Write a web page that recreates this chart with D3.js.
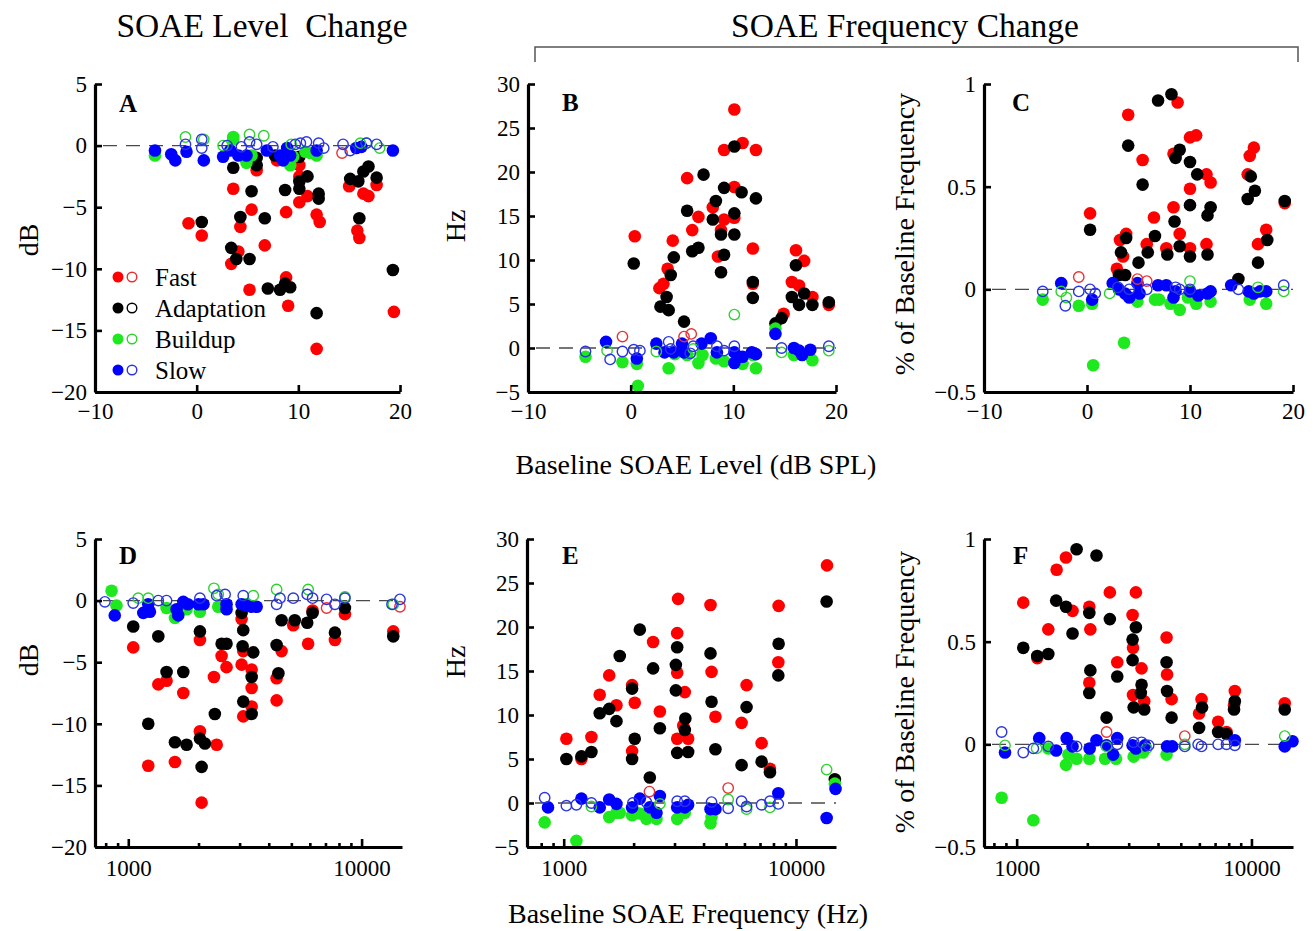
<!DOCTYPE html>
<html>
<head>
<meta charset="utf-8">
<script src="https://cdnjs.cloudflare.com/ajax/libs/d3/7.8.5/d3.min.js"></script>
<style>
body { margin:0; background:#fff; }
svg { display:block; }
text { font-family:"Liberation Serif","Times New Roman",serif; fill:#000; }
</style>
</head>
<body>
<div id="chart"></div>
<script>
// ---- data: [x, y] ----
// panel A : level change (dB) vs baseline level (dB SPL)
var aFast  = [[-0.8,-6.3],[0.5,-7.3],[3.4,-9.6],[3.6,-3.5],[4.1,-8.6],[4.3,-6.6],[5.4,-5.2],[5.2,-11.7],[5.9,-2.0],[6.7,-8.1],[7.9,-1.2],[8.8,-5.4],[8.8,-10.7],[9.0,-13.0],[10.1,-1.6],[10.1,-2.5],[10.1,-4.6],[10.9,-4.1],[11.8,-5.6],[12.1,-6.2],[11.8,-16.5],[15.0,-3.3],[15.8,-6.9],[16.0,-7.5],[16.4,-3.9],[16.9,-4.1],[17.7,-3.2],[19.4,-13.5]];
var aFastO = [[14.3,-0.6]];
var aAdapt = [[0.5,-6.2],[3.6,-1.8],[3.4,-8.3],[3.9,-9.2],[4.3,-5.8],[5.2,-9.2],[5.4,-3.7],[5.9,-1.0],[5.9,-1.6],[6.7,-5.9],[7.0,-11.6],[7.7,-0.8],[8.2,-11.7],[8.7,-11.2],[9.2,-11.5],[8.7,-3.6],[10.1,-0.9],[10.1,-2.9],[10.1,-3.5],[10.9,-2.5],[12.0,-3.9],[12.0,-4.3],[11.8,-13.6],[15.1,-2.7],[15.9,-2.9],[16.0,-5.9],[16.4,-2.1],[16.9,-1.7],[17.7,-2.6],[19.3,-10.1]];
var aBuild = [[-4.1,-0.8],[3.6,0.7],[3.6,0.5],[4.9,-1.4],[5.4,-0.8],[9.2,-1.6],[9.5,-0.9],[10.7,-0.5],[11.2,-0.6],[11.8,-0.8]];
var aBuildO = [[-1.1,0.7],[0.7,0.5],[2.6,0],[5.2,0.9],[6.6,0.8],[9.3,0.1],[16.1,0.2],[16.7,0.2],[18.0,-0.2]];
var aSlow  = [[-4.1,-0.4],[-2.5,-0.7],[-2.1,-1.2],[-1.0,-0.5],[0.7,-1.2],[2.6,-0.9],[3.3,-0.4],[4.1,-0.8],[4.9,-0.8],[6.9,-0.4],[8.2,-0.8],[8.5,-1.2],[8.9,-0.2],[9.2,-0.8],[11.8,-0.4],[15.7,-0.2],[16.2,-0.1],[19.3,-0.4]];
var aSlowO = [[-1.1,0.1],[0.5,0.5],[0.5,-0.2],[3.0,0],[4.4,-0.1],[5.2,0.3],[5.9,0.1],[7.5,-0.1],[9.7,0.1],[10.2,0.2],[10.8,0.3],[12.0,0.2],[12.5,-0.2],[14.4,0.1],[15.1,-0.4],[16.7,0.2],[17.7,0.1]];

// panel B : frequency change (Hz) vs baseline level
var bFast  = [[0.4,12.7],[2.8,6.8],[3.2,7.3],[3.6,9.0],[4.1,12.2],[5.5,19.3],[6.0,13.4],[6.6,14.9],[8.0,16.0],[8.5,10.4],[8.8,13.4],[9.1,22.5],[9.1,14.6],[10.1,27.1],[10.1,18.3],[10.1,14.8],[10.9,23.3],[11.9,11.3],[12.2,22.5],[11.9,7.3],[14.9,3.9],[15.7,7.5],[16.1,11.1],[16.4,7.1],[16.9,9.9],[17.7,5.8],[19.3,4.9]];
var bFastO = [[-0.8,1.3],[5.2,1.3],[5.9,1.6]];
var bAdapt = [[0.3,9.6],[2.9,4.7],[3.5,5.8],[3.7,4.3],[3.9,8.3],[4.2,10.3],[5.2,3.0],[5.5,15.6],[6.0,11.0],[6.6,11.4],[7.1,19.7],[8.0,14.6],[8.3,16.7],[8.8,8.6],[8.8,12.9],[9.1,10.6],[9.1,18.2],[10.1,22.9],[10.1,15.3],[10.1,12.9],[10.8,17.7],[11.9,5.7],[11.9,7.5],[12.2,17.0],[14.1,2.8],[14.7,3.4],[15.7,5.8],[16.1,9.4],[16.4,4.9],[16.9,6.2],[17.7,4.9],[19.3,5.2]];
var bBuild = [[-4.4,-1.0],[-0.8,-1.6],[0.6,-1.8],[0.7,-4.3],[3.7,-2.3],[4.3,-0.7],[5.5,-0.8],[6.6,-1.7],[7.0,-0.8],[8.3,-1.2],[9.1,-1.5],[10.9,-1.8],[11.9,-0.8],[12.2,-2.3],[14.1,2.2],[15.9,-0.8],[17.7,-1.4]];
var bBuildO = [[-2.3,-0.3],[2.5,-0.4],[6.1,-0.1],[10.1,3.8],[14.7,-0.5],[19.3,-0.3]];
var bSlow  = [[-2.4,0.7],[0.6,-1.2],[2.5,0.5],[3.3,-0.5],[4.2,-0.5],[5.0,0.5],[5.2,-0.5],[6.9,0.5],[7.8,1.1],[8.4,-0.5],[10.1,-0.5],[10.1,-1.7],[10.9,-1.0],[11.8,-0.5],[12.2,-0.7],[14.1,1.6],[15.9,0],[16.4,-0.3],[16.7,-0.8],[17.5,-0.2]];
var bSlowO = [[-4.4,-0.4],[-2.0,-1.3],[-0.8,-0.4],[0.3,-0.2],[0.9,-0.3],[3.7,0.7],[3.9,-0.1],[5.8,-0.6],[6.1,0.2],[8.4,0.2],[9.1,-0.3],[10.1,0.2],[14.7,0],[19.3,0.2]];

// panel C : frequency change (% of baseline) vs baseline level
var cFast  = [[0.3,0.37],[2.9,0.10],[3.2,0.24],[3.5,0.16],[3.8,0.27],[4.0,0.85],[5.4,0.63],[5.8,0.22],[6.5,0.35],[7.7,0.20],[8.4,0.40],[8.4,0.66],[8.8,0.91],[9.0,0.27],[10.0,0.49],[10.0,0.20],[10.0,0.74],[10.6,0.75],[11.6,0.56],[12.0,0.52],[11.6,0.22],[15.6,0.56],[15.8,0.65],[16.2,0.69],[16.6,0.22],[17.4,0.29],[19.2,0.42]];
var cFastO = [[-0.8,0.06],[4.9,0.05],[5.8,0.04]];
var cAdapt = [[0.3,0.29],[3.1,0.07],[3.3,0.18],[3.7,0.07],[3.8,0.25],[4.0,0.70],[5.0,0.13],[5.4,0.51],[5.9,0.18],[6.6,0.26],[6.9,0.92],[7.8,0.17],[8.2,0.95],[8.5,0.33],[8.6,0.64],[9.0,0.68],[9.0,0.21],[10.0,0.41],[10.0,0.62],[10.0,0.16],[10.7,0.56],[11.7,0.36],[12.0,0.40],[11.7,0.17],[14.7,0.05],[15.6,0.44],[15.9,0.55],[16.3,0.48],[16.6,0.13],[17.5,0.24],[19.2,0.43]];
var cBuild = [[-4.3,-0.05],[-0.8,-0.08],[0.5,-0.07],[0.6,-0.37],[3.6,-0.26],[4.9,-0.06],[6.6,-0.05],[7.0,-0.05],[8.1,-0.07],[9.0,-0.10],[9.8,-0.04],[10.6,-0.07],[12.0,-0.06],[15.8,-0.05],[17.4,-0.07]];
var cBuildO = [[-2.5,-0.01],[-2.0,-0.04],[2.2,-0.02],[10.0,0.04],[16.6,0.01],[19.1,-0.01]];
var cSlow  = [[-2.5,0.03],[0.5,-0.05],[2.5,0.03],[3.1,0.0],[3.7,-0.02],[4.1,-0.04],[4.9,0.03],[5.1,-0.02],[6.9,0.02],[7.7,0.02],[8.4,-0.04],[8.6,-0.01],[10.0,-0.01],[10.8,-0.03],[11.7,-0.02],[12.0,-0.01],[14.0,0.02],[15.7,-0.01],[16.2,-0.02],[16.8,-0.01],[17.4,-0.01]];
var cSlowO = [[-4.3,-0.01],[-2.1,-0.08],[-0.8,-0.01],[0.3,0.0],[0.8,-0.02],[3.0,0.01],[4.1,0.0],[5.8,0.0],[8.6,0.01],[9.0,0.0],[10.0,0.0],[14.7,0.0],[19.1,0.02]];

// panel D : level change (dB) vs baseline frequency (Hz)
var dFast  = [[1050,-3.8],[1218,-13.4],[1345,-6.8],[1459,-6.5],[1585,-13.1],[1721,-7.5],[2028,-3.2],[2028,-10.6],[2062,-16.4],[2329,-6.2],[2393,-11.7],[2512,-4.5],[2637,-5.4],[3060,-1.5],[3060,-5.2],[3110,-4.1],[3110,-9.4],[3379,-5.6],[3379,-7.1],[3379,-8.6],[4323,-6.3],[4323,-8.1],[4540,-4.1],[5095,-2.0],[5900,-3.5],[6164,-0.8],[7685,-3.2],[8483,-1.1],[13670,-2.5]];
var dFastO = [[7079,-0.6],[14600,-0.5]];
var dAdapt = [[1050,-2.1],[1218,-10.0],[1345,-2.9],[1459,-5.8],[1585,-11.5],[1721,-5.8],[1778,-11.7],[2028,-2.5],[2028,-11.2],[2130,-11.6],[2062,-13.5],[2350,-9.2],[2512,-3.5],[2637,-3.5],[3060,-1.0],[3110,-2.4],[3090,-3.7],[3110,-8.2],[3433,-4.2],[3379,-6.2],[3379,-9.2],[4323,-3.6],[4400,-5.9],[4540,-1.6],[5170,-1.6],[5848,-1.8],[6164,-1.0],[7685,-2.6],[8483,-0.6],[13670,-2.9]];
var dBuild = [[848,0.8],[890,-0.4],[1459,-0.6],[1585,-1.4],[1778,-0.7],[2028,-0.9],[2430,-0.5],[3200,-0.3]];
var dBuildO = [[1103,0.2],[1218,0.2],[2329,1.0],[2430,0.5],[3433,0.4],[4323,0.9],[5900,0.9],[8483,0.3],[13670,-0.3]];
var dSlow  = [[875,-1.2],[1160,-1.0],[1218,-0.3],[1238,-0.9],[1611,-0.7],[1637,-1.2],[1721,-0.1],[1800,-0.3],[2000,-0.3],[2100,-0.3],[2637,-0.3],[2637,-0.7],[3060,-0.3],[3210,-0.4],[3379,-0.5],[3550,-0.5]];
var dSlowO = [[794,-0.1],[1050,-0.2],[1345,0],[1459,0],[2028,0.2],[2393,0.4],[2600,0.5],[3110,0.4],[4323,-0.3],[4469,0.2],[5095,0.2],[5848,0.5],[6164,0.2],[7079,0.1],[7685,-0.3],[8483,0.2],[13500,-0.3],[14600,0.1]];

// panel E : frequency change (Hz) vs baseline frequency
var eFast  = [[1027,7.3],[1192,5.0],[1316,7.5],[1429,12.3],[1570,14.5],[1687,11.1],[1970,13.4],[2022,11.4],[1970,5.9],[2426,18.3],[2594,10.4],[3080,19.3],[3080,14.8],[3108,23.2],[3080,7.3],[3323,12.6],[3270,8.8],[3434,7.3],[4286,22.5],[4330,14.9],[4500,9.8],[5832,9.1],[6128,13.4],[7112,6.8],[7726,3.9],[8394,16.0],[8420,22.4],[13600,27.0]];
var eFastO = [[2340,1.3],[5106,1.7]];
var eAdapt = [[1027,5.0],[1192,5.3],[1316,5.8],[1429,10.2],[1570,10.7],[1687,9.3],[1743,16.7],[1970,13.0],[2022,7.3],[1970,5.0],[2127,19.7],[2348,2.9],[2426,15.3],[2594,8.5],[3040,15.7],[3080,17.7],[3040,12.8],[3080,5.7],[3340,9.6],[3323,8.3],[3434,5.8],[4286,17.0],[4330,11.5],[4500,6.1],[5832,4.3],[6128,10.9],[7112,4.7],[7726,3.5],[8394,14.5],[8420,18.1],[13550,22.9],[14700,2.7]];
var eBuild = [[828,-2.2],[1134,-4.3],[1570,-1.6],[1687,-1.1],[1743,-1.1],[1970,-1.4],[2127,-1.2],[2270,-1.8],[2509,-1.8],[3080,-1.8],[3323,-1.1],[4286,-2.3],[4330,-1.6],[14700,2.2]];
var eBuildO = [[1316,-0.4],[2594,-0.1],[5106,0.4],[6128,-0.7],[7726,-0.5],[13550,3.8]];
var eSlow  = [[856,-0.5],[1192,0.5],[1429,-0.5],[1570,0.4],[1687,-0.1],[1970,-0.5],[2127,0.5],[2348,-0.5],[2594,0.8],[2509,-1.1],[3080,-0.5],[3323,-0.5],[3434,-0.2],[4286,-0.7],[4500,-0.7],[8394,1.1],[13550,-1.7],[14800,1.6]];
var eSlowO = [[828,0.6],[1027,-0.3],[1134,-0.2],[1316,0],[1985,0],[2270,0.1],[3080,0.2],[3323,0.2],[4330,0.1],[5106,-0.6],[5832,0.2],[6128,-0.4],[7112,-0.2],[7726,0.2],[8394,-0.1]];

// panel F : frequency change (% of baseline) vs baseline frequency
var fFast  = [[1067,0.69],[1224,0.42],[1364,0.56],[1480,0.85],[1622,0.91],[1730,0.65],[2039,0.67],[2060,0.56],[2039,0.30],[2494,0.74],[2682,0.40],[3117,0.63],[3130,0.47],[3220,0.74],[3130,0.24],[3404,0.37],[3495,0.21],[4350,0.52],[4370,0.34],[4570,0.22],[5985,0.15],[6130,0.22],[7213,0.11],[7830,0.06],[8496,0.26],[8430,0.19],[13860,0.20]];
var fFastO = [[2415,0.06],[5200,0.04]];
var fAdapt = [[1067,0.47],[1224,0.43],[1364,0.44],[1473,0.70],[1622,0.67],[1730,0.54],[1800,0.95],[2039,0.64],[2060,0.36],[2039,0.25],[2188,0.92],[2415,0.13],[2494,0.61],[2682,0.33],[3117,0.51],[3117,0.41],[3220,0.57],[3150,0.18],[3404,0.29],[3380,0.25],[3495,0.17],[4350,0.40],[4370,0.26],[4570,0.13],[5985,0.08],[6160,0.18],[7213,0.06],[7830,0.05],[8496,0.21],[8430,0.17],[13860,0.17]];
var fBuild = [[863,-0.26],[1178,-0.37],[1364,-0.02],[1622,-0.10],[1660,-0.05],[1800,-0.07],[2039,-0.07],[2380,-0.07],[2650,-0.07],[3150,-0.06],[3450,-0.04],[4350,-0.05]];
var fBuildO = [[892,-0.005],[1216,-0.02],[2415,-0.01],[3575,-0.02],[5200,0.0],[13860,0.04]];
var fSlow  = [[892,-0.04],[1248,0.03],[1473,-0.03],[1634,0.03],[1730,-0.01],[2046,-0.02],[2188,0.02],[2415,-0.005],[2577,-0.05],[2682,0.03],[3117,-0.005],[3220,-0.02],[3520,-0.005],[4370,-0.01],[4600,-0.01],[8496,0.02],[13860,-0.01],[14950,0.015]];
var fSlowO = [[863,0.06],[1067,-0.04],[1178,-0.02],[1364,-0.01],[1800,-0.01],[2682,0.0],[3150,0.01],[3404,0.01],[3650,-0.005],[5200,-0.01],[5930,0],[6130,-0.01],[7213,0],[7830,0],[8496,-0.005]];

// tick values / labels
var levelTicks = [-10, 0, 10, 20];
var freqMinor = [800, 900, 2000, 3000, 4000, 5000, 6000, 7000, 8000, 9000];
var freqMajor = [1000, 10000];
var dbTicks = [-20, -15, -10, -5, 0, 5];
var hzTicks = [-5, 0, 5, 10, 15, 20, 25, 30];
var pctTicks = [-0.5, 0, 0.5, 1];
var legendNames = ["Fast", "Adaptation", "Buildup", "Slow"];

var colFill = {fast:"#ff0000", adapt:"#000000", build:"#1ee81e", slow:"#0000ff"};
var colOpen = {fast:"#e63232", adapt:"#000000", build:"#2ed22e", slow:"#2a35e0"};

var width = 1313, height = 931;
var svg = d3.select("#chart").append("svg").attr("width", width).attr("height", height);

function drawPanel(p) {
    var x = p.log ? d3.scaleLog().domain(p.xd).range(p.xr) : d3.scaleLinear().domain(p.xd).range(p.xr);
    var y = d3.scaleLinear().domain(p.yd).range(p.yr);
    var g = svg.append("g");

    // zero line
    g.append("line")
        .attr("x1", p.xr[0] + 8).attr("x2", p.xr[1])
        .attr("y1", y(0)).attr("y2", y(0))
        .attr("stroke", "#4a4a4a").attr("stroke-width", 1.4)
        .attr("stroke-dasharray", "14,9");

    // points: filled first, open on top
    var layers = [
        [p.s.fast, colFill.fast, true], [p.s.adapt, colFill.adapt, true],
        [p.s.build, colFill.build, true], [p.s.slow, colFill.slow, true],
        [p.s.fastO, colOpen.fast, false], [p.s.buildO, colOpen.build, false],
        [p.s.slowO, colOpen.slow, false]
    ];
    layers.forEach(function(l) {
        g.append("g").selectAll("circle")
            .data(l[0]).enter().append("circle")
            .attr("cx", function(d){ return x(d[0]); })
            .attr("cy", function(d){ return y(d[1]); })
            .attr("r", l[2] ? 6.3 : 5.2)
            .attr("fill", l[2] ? l[1] : "none")
            .attr("stroke", l[2] ? "none" : l[1])
            .attr("stroke-width", 1.4);
    });

    // y axis
    var ya = g.append("g").attr("transform", "translate(" + p.xr[0] + ",0)")
        .call(d3.axisLeft(y).tickValues(p.yt).tickFormat(d3.format("~g"))
            .tickSize(-7).tickSizeOuter(0).tickPadding(8));
    // x axis
    var xa = g.append("g").attr("transform", "translate(0," + p.yr[0] + ")");
    if (p.log) {
        xa.call(d3.axisBottom(x).tickValues(freqMinor.concat(freqMajor))
            .tickFormat(function(d){ return freqMajor.indexOf(d) >= 0 ? d : ""; })
            .tickSize(-4).tickSizeOuter(0).tickPadding(13));
        xa.selectAll(".tick line").filter(function(d){ return freqMajor.indexOf(d) >= 0; })
            .attr("y2", -8);
    } else {
        xa.call(d3.axisBottom(x).tickValues(levelTicks).tickFormat(d3.format("~g"))
            .tickSize(-7).tickSizeOuter(0).tickPadding(11));
    }
    [ya, xa].forEach(function(a) {
        a.select(".domain").attr("stroke", "#000").attr("stroke-width", 3.2);
        a.selectAll(".tick line").attr("stroke", "#000").attr("stroke-width", 2.6);
        a.selectAll(".tick text").attr("font-size", "23px")
            .attr("font-family", "'Liberation Serif','Times New Roman',serif");
    });

    // panel letter
    g.append("text").attr("x", p.lx).attr("y", p.ly)
        .attr("font-size", "25px").attr("font-weight", "bold").text(p.letter);

    // y label
    g.append("text")
        .attr("transform", "translate(" + p.labx + "," + p.laby + ") rotate(-90)")
        .attr("text-anchor", "middle").attr("dy", "0.35em")
        .attr("font-size", "28px").text(p.ylab);
}

var topR = [392, 84], botR = [847, 539];
var panels = [
    {letter:"A", xd:[-10,20], xr:[95,400], yd:[-20,5], yr:topR, yt:dbTicks, ylab:"dB", labx:28, laby:240, lx:119, ly:112,
     s:{fast:aFast, adapt:aAdapt, build:aBuild, slow:aSlow, fastO:aFastO, buildO:aBuildO, slowO:aSlowO}},
    {letter:"B", xd:[-10,20], xr:[528,836], yd:[-5,30], yr:topR, yt:hzTicks, ylab:"Hz", labx:455, laby:226, lx:562, ly:111,
     s:{fast:bFast, adapt:bAdapt, build:bBuild, slow:bSlow, fastO:bFastO, buildO:bBuildO, slowO:bSlowO}},
    {letter:"C", xd:[-10,20], xr:[984,1293], yd:[-0.5,1], yr:topR, yt:pctTicks, ylab:"% of Baseline Frequency", labx:904, laby:234, lx:1012, ly:111,
     s:{fast:cFast, adapt:cAdapt, build:cBuild, slow:cSlow, fastO:cFastO, buildO:cBuildO, slowO:cSlowO}},
    {letter:"D", log:true, xd:[720,14900], xr:[95,402], yd:[-20,5], yr:botR, yt:dbTicks, ylab:"dB", labx:28, laby:660, lx:119, ly:564,
     s:{fast:dFast, adapt:dAdapt, build:dBuild, slow:dSlow, fastO:dFastO, buildO:dBuildO, slowO:dSlowO}},
    {letter:"E", log:true, xd:[695,14870], xr:[527,836], yd:[-5,30], yr:botR, yt:hzTicks, ylab:"Hz", labx:455, laby:662, lx:562, ly:564,
     s:{fast:eFast, adapt:eAdapt, build:eBuild, slow:eSlow, fastO:eFastO, buildO:eBuildO, slowO:eSlowO}},
    {letter:"F", log:true, xd:[726,15030], xr:[984,1293], yd:[-0.5,1], yr:botR, yt:pctTicks, ylab:"% of Baseline Frequency", labx:904, laby:692, lx:1013, ly:564,
     s:{fast:fFast, adapt:fAdapt, build:fBuild, slow:fSlow, fastO:fFastO, buildO:fBuildO, slowO:fSlowO}}
];
panels.forEach(drawPanel);

// legend (inside panel A)
var legKeys = ["fast", "adapt", "build", "slow"];
var leg = svg.append("g");
legKeys.forEach(function(k, i) {
    var ly = 277 + i * 31;
    leg.append("circle").attr("cx", 118).attr("cy", ly).attr("r", 5.5).attr("fill", colFill[k]);
    leg.append("circle").attr("cx", 132).attr("cy", ly).attr("r", 4.8)
        .attr("fill", "none").attr("stroke", colOpen[k]).attr("stroke-width", 1.4);
    leg.append("text").attr("x", 155).attr("y", ly + 9).attr("font-size", "25px").text(legendNames[i]);
});

// titles
svg.append("text").attr("x", 262).attr("y", 37).attr("text-anchor", "middle")
    .attr("font-size", "33.5px").style("white-space", "pre")
    .text("SOAE Level  Change");
svg.append("text").attr("x", 905).attr("y", 37).attr("text-anchor", "middle")
    .attr("font-size", "33.5px").text("SOAE Frequency Change");
svg.append("path").attr("d", "M535,62V47H1298V62")
    .attr("fill", "none").attr("stroke", "#555").attr("stroke-width", 1.5);

svg.append("text").attr("x", 696).attr("y", 474).attr("text-anchor", "middle")
    .attr("font-size", "28px").text("Baseline SOAE Level (dB SPL)");
svg.append("text").attr("x", 688).attr("y", 923).attr("text-anchor", "middle")
    .attr("font-size", "28px").text("Baseline SOAE Frequency (Hz)");
</script>
</body>
</html>
